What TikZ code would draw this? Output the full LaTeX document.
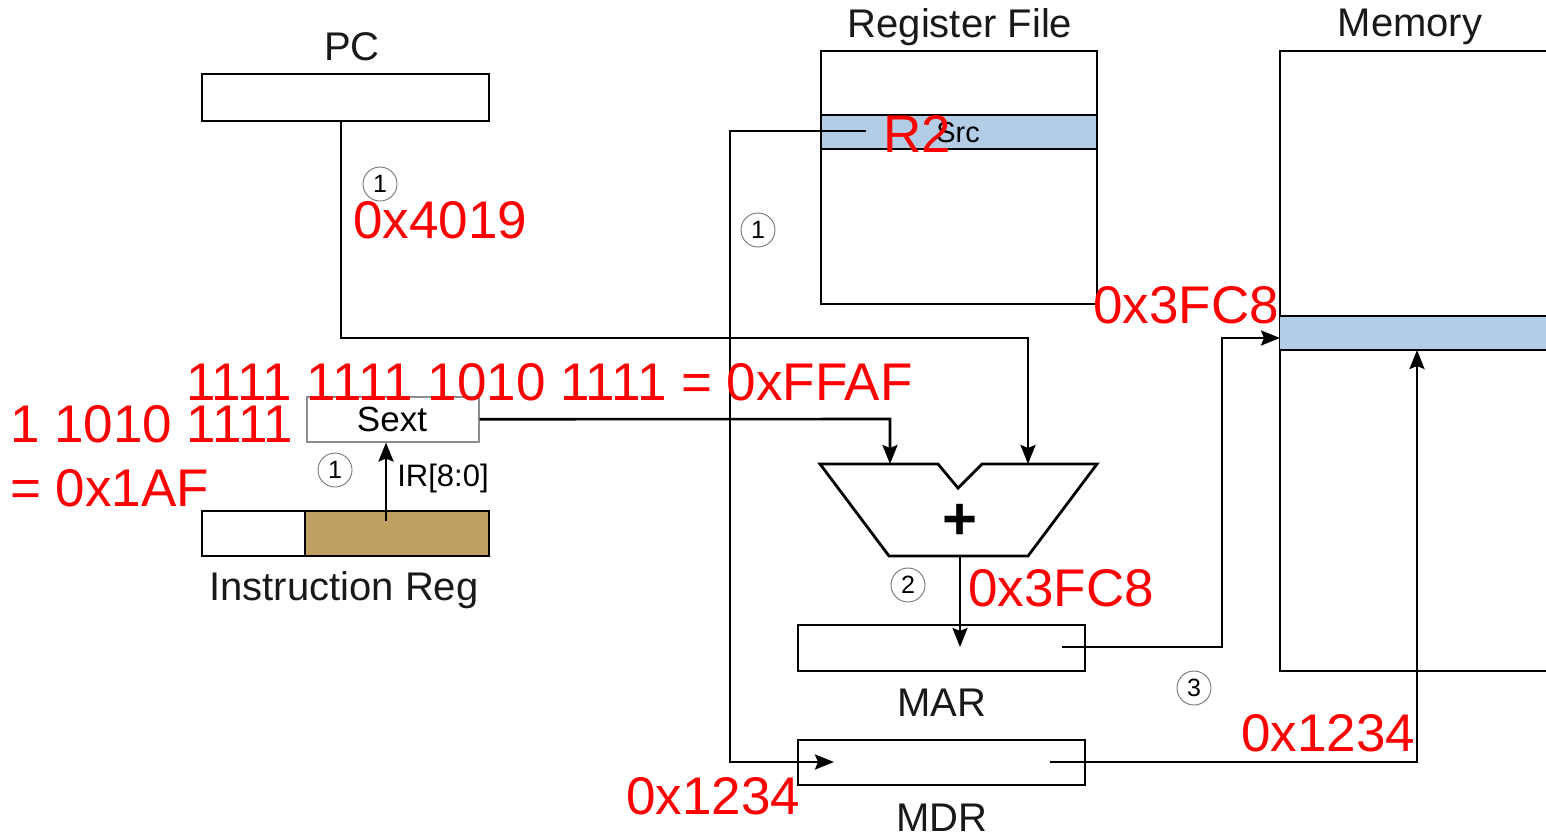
\documentclass[tikz,border=0pt]{standalone}
\usepackage{fontspec}
\setmainfont{Liberation Sans}
\usetikzlibrary{arrows.meta}
\definecolor{bandblue}{HTML}{B3CDE6}
\definecolor{irfill}{HTML}{C0A062}
\definecolor{hexred}{HTML}{FF0000}
\newcommand\fsz[1]{\fontsize{#1}{#1}\selectfont}
\begin{document}
\begin{tikzpicture}[x=1pt,y=-1pt,
  regbox/.style={draw=black, line width=2.8pt, inner sep=0pt, outer sep=0pt, anchor=north west},
  wire/.style={draw=black, line width=2.6pt},
  arr/.style={wire, -{Stealth[length=19pt,width=15pt,inset=3pt]}},
  blab/.style={text=black!90, inner sep=0pt, font=\fsz{40}},
  redlab/.style={text=hexred, inner sep=0pt, anchor=west, font=\fsz{53}},
  numc/.style={circle, draw=black!55, line width=0.9pt, minimum size=34pt, inner sep=0pt, font=\fsz{25}}
]
\useasboundingbox (0,0) rectangle (1546,833);

% boxes
\node[regbox, minimum width=287pt, minimum height=47pt] (pc) at (202,74) {};
\node[blab] (pclab) at (352,47) {PC};

\node[regbox, minimum width=276pt, minimum height=253pt] (rf) at (821,51) {};
\node[regbox, fill=bandblue, line width=2pt, minimum width=276pt, minimum height=34pt] (src) at (821,115) {};
\node[inner sep=0pt, font=\fsz{29}] (srclab) at (958,133) {Src};
\node[blab] (rflab) at (960,27) {Register File};

% memory (cut at right edge)
\draw[line width=2.8pt] (1546,51) -- (1280,51) -- (1280,671) -- (1546,671);
\fill[bandblue] (1280,316) rectangle (1546,350);
\draw[line width=2pt] (1546,316) -- (1280,316) (1280,350) -- (1546,350);
\node[inner sep=0pt] (mem) at (1413,361) {};
\node[blab] (memlab) at (1410,27) {Memory};

% Sext
\node[draw=black!45, line width=1.5pt, minimum width=172pt, minimum height=45pt, inner sep=0pt, anchor=north west] (sext) at (306,396) {};
\node[inner sep=0pt, font=\fsz{35}] (sextlab) at (392,419) {Sext};

% Instruction register
\node[regbox, minimum width=103pt, minimum height=45pt] (irl) at (202,511) {};
\node[regbox, fill=irfill, minimum width=184pt, minimum height=45pt] (irr) at (305,511) {};
\node[blab] (irlab) at (344,590) {Instruction Reg};
\node[inner sep=0pt, font=\fsz{31}] (irbits) at (443,478) {IR[8:0]};

% adder
\draw[line width=2.8pt] (820,464) -- (938,464) -- (958,488) -- (982,464) -- (1097,464) -- (1028,556) -- (889,556) -- cycle;
\node[inner sep=0pt, font=\fsz{60}\bfseries] (plus) at (960,522) {+};
\coordinate (addA) at (890,464);
\coordinate (addB) at (1028,464);
\coordinate (addout) at (960,556);

% MAR, MDR
\node[regbox, minimum width=287pt, minimum height=46pt] (mar) at (798,625) {};
\node[blab] (marlab) at (942,703) {MAR};
\node[regbox, minimum width=287pt, minimum height=45pt] (mdr) at (798,740) {};
\node[blab] (mdrlab) at (942,818) {MDR};

% connector coordinates
\coordinate (pcout) at (341,121);
\coordinate (irtap) at (386,521);
\coordinate (srcout) at (866,131);
\coordinate (mdrin) at (834,762);
\coordinate (marin) at (960,647);
\coordinate (marout) at (1062,647);
\coordinate (memin) at (1280,338);
\coordinate (mdrout) at (1050,762);
\coordinate (memband) at (1417,350);

% connectors
\draw[arr] (pcout) -- (341,338) -- (1028,338) -- (addB);
\draw[arr] (sext.east) -- (890,419) -- (addA);
\draw[arr] (irtap) -- (irtap |- sext.south);
\draw[arr] (srcout) -- (730,131) -- (730,762) -- (mdrin);
\draw[arr] (addout) -- (marin);
\draw[arr] (marout) -- (1222,647) -- (1222,338) -- (memin);
\draw[arr] (mdrout) -- (1417,762) -- (memband);

% step circles
\node[numc] (c1) at (380,184) {1};
\node[numc] (c2) at (758,230) {1};
\node[numc] (c3) at (335,470) {1};
\node[numc] (c4) at (908,585) {2};
\node[numc] (c5) at (1194,688) {3};

% red annotations
\node[redlab] (h1) at (353,220) {0x4019};
\node[redlab] (h2) at (883,134) {R2};
\node[redlab] (h3) at (1093,305) {0x3FC8};
\node[redlab] (h4) at (186,382) {1111 1111 1010 1111 = 0xFFAF};
\node[redlab] (h5) at (10,424) {1 1010 1111};
\node[redlab] (h6) at (10,488) {= 0x1AF};
\node[redlab] (h7) at (968,588) {0x3FC8};
\node[redlab] (h8) at (1241,733) {0x1234};
\node[redlab] (h9) at (626,796) {0x1234};
\end{tikzpicture}
\end{document}
